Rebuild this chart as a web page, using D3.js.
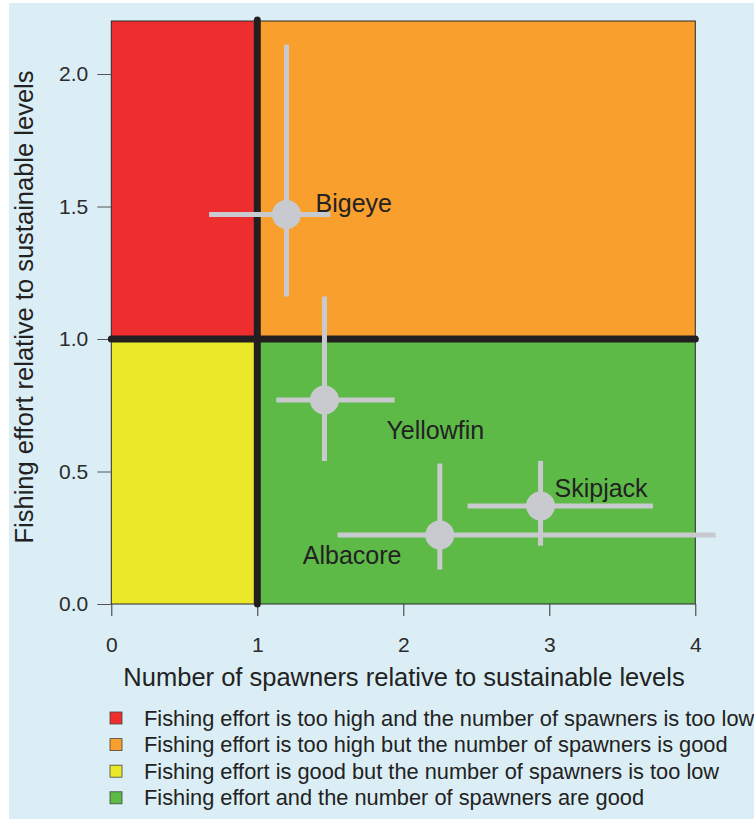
<!DOCTYPE html>
<html>
<head>
<meta charset="utf-8">
<script src="https://cdn.jsdelivr.net/npm/d3@7"></script>
<style>
  html, body { margin: 0; padding: 0; background: #ffffff; }
  svg { display: block; }
  text { font-family: "Liberation Sans", Arial, Helvetica, sans-serif; }
</style>
</head>
<body>
<svg id="chart" width="754" height="819"></svg>
<script>
// Tuna stock status: spawners (x) vs fishing effort (y), relative to sustainable levels
const species   = ["Bigeye", "Yellowfin", "Skipjack", "Albacore"];
const spawners  = [1.20, 1.46, 2.94, 2.25];
const spawnLo   = [0.67, 1.13, 2.44, 1.55];
const spawnHi   = [1.50, 1.94, 3.71, 4.14];
const effort    = [1.47, 0.77, 0.37, 0.26];
const effortLo  = [1.16, 0.54, 0.22, 0.13];
const effortHi  = [2.11, 1.16, 0.54, 0.53];

const xTicks = [0, 1, 2, 3, 4];
const yTicks = [0.0, 0.5, 1.0, 1.5, 2.0];

// Quadrants: [x0, x1, y0, y1, colour]
const zoneX0 = [0, 1, 0, 1];
const zoneX1 = [1, 4, 1, 4];
const zoneY0 = [1, 1, 0, 0];
const zoneY1 = [2.2, 2.2, 1, 1];
const zoneColors = ["#ee2e2e", "#f89f2e", "#ebe82a", "#5dba47"];
const legendLabels = [
  "Fishing effort is too high and the number of spawners is too low",
  "Fishing effort is too high but the number of spawners is good",
  "Fishing effort is good but the number of spawners is too low",
  "Fishing effort and the number of spawners are good"
];

const svg = d3.select("#chart");

// page background
svg.append("rect").attr("x", 9).attr("y", 3).attr("width", 745).attr("height", 816)
  .attr("fill", "#dbeef5");

const x = d3.scaleLinear().domain([0, 4]).range([111.3, 695.3]);
const y = d3.scaleLinear().domain([0, 2.2]).range([604, 21]);

// quadrant fills
svg.append("g").selectAll("rect").data(zoneColors).join("rect")
  .attr("x", (d, i) => x(zoneX0[i]))
  .attr("y", (d, i) => y(zoneY1[i]))
  .attr("width", (d, i) => x(zoneX1[i]) - x(zoneX0[i]))
  .attr("height", (d, i) => y(zoneY0[i]) - y(zoneY1[i]))
  .attr("fill", d => d);

// plot frame
svg.append("rect")
  .attr("x", x(0)).attr("y", y(2.2))
  .attr("width", x(4) - x(0)).attr("height", y(0) - y(2.2))
  .attr("fill", "none").attr("stroke", "#2a2a2a").attr("stroke-width", 1);

// axes
const xAxis = d3.axisBottom(x).tickValues(xTicks).tickFormat(d3.format("d"))
  .tickSize(12).tickSizeOuter(0).tickPadding(21);
const gx = svg.append("g").attr("transform", `translate(0,${y(0)})`).call(xAxis);
gx.select(".domain").remove();
gx.selectAll(".tick line").attr("stroke", "#333");
gx.selectAll(".tick text").attr("font-size", 21).attr("fill", "#2b2b2b")
  .attr("font-family", "'Liberation Sans', Arial, sans-serif");

const yAxis = d3.axisLeft(y).tickValues(yTicks).tickFormat(d3.format(".1f"))
  .tickSize(14).tickSizeOuter(0).tickPadding(9);
const gy = svg.append("g").attr("transform", `translate(${x(0)},0)`).call(yAxis);
gy.select(".domain").remove();
gy.selectAll(".tick line").attr("stroke", "#555");
gy.selectAll(".tick text").attr("font-size", 21).attr("fill", "#2b2b2b")
  .attr("font-family", "'Liberation Sans', Arial, sans-serif");

// reference lines at 1.0
svg.append("line")
  .attr("x1", x(1)).attr("x2", x(1)).attr("y1", y(2.2) - 1).attr("y2", y(0))
  .attr("stroke", "#231f20").attr("stroke-width", 7).attr("stroke-linecap", "round");
svg.append("line")
  .attr("x1", x(0)).attr("x2", x(4)).attr("y1", y(1)).attr("y2", y(1))
  .attr("stroke", "#231f20").attr("stroke-width", 7).attr("stroke-linecap", "round");

// error bars and points
const marks = svg.append("g");
const grey = "#c9cacf";
species.forEach((s, i) => {
  marks.append("line")
    .attr("x1", x(spawnLo[i])).attr("x2", x(spawnHi[i]))
    .attr("y1", y(effort[i])).attr("y2", y(effort[i]))
    .attr("stroke", grey).attr("stroke-width", 5);
  marks.append("line")
    .attr("x1", x(spawners[i])).attr("x2", x(spawners[i]))
    .attr("y1", y(effortLo[i])).attr("y2", y(effortHi[i]))
    .attr("stroke", grey).attr("stroke-width", 5);
  marks.append("circle")
    .attr("cx", x(spawners[i])).attr("cy", y(effort[i])).attr("r", 14.5)
    .attr("fill", grey);
});

// species labels, placed relative to each point
const labelDx = [29, 62, 14, -137];
const labelDy = [-2, 39, -9, 29];
svg.append("g").selectAll("text").data(species).join("text")
  .attr("x", (d, i) => x(spawners[i]) + labelDx[i])
  .attr("y", (d, i) => y(effort[i]) + labelDy[i])
  .attr("font-size", 25).attr("fill", "#222")
  .text(d => d);

// axis titles
svg.append("text")
  .attr("x", 404).attr("y", 686)
  .attr("text-anchor", "middle").attr("font-size", 25.5).attr("fill", "#222")
  .text("Number of spawners relative to sustainable levels");
svg.append("text")
  .attr("transform", "translate(33,307) rotate(-90)")
  .attr("text-anchor", "middle").attr("font-size", 25.5).attr("fill", "#222")
  .text("Fishing effort relative to sustainable levels");

// legend
const legend = svg.append("g").attr("transform", "translate(110,712)");
const rowH = 26.6;
legend.selectAll("rect").data(zoneColors).join("rect")
  .attr("x", 0).attr("y", (d, i) => i * rowH)
  .attr("width", 12).attr("height", 12)
  .attr("fill", d => d).attr("stroke", "#444").attr("stroke-width", 0.8);
legend.selectAll("text").data(legendLabels).join("text")
  .attr("x", 34).attr("y", (d, i) => i * rowH + 13.5)
  .attr("font-size", 21.8).attr("fill", "#222")
  .text(d => d);
</script>
</body>
</html>
